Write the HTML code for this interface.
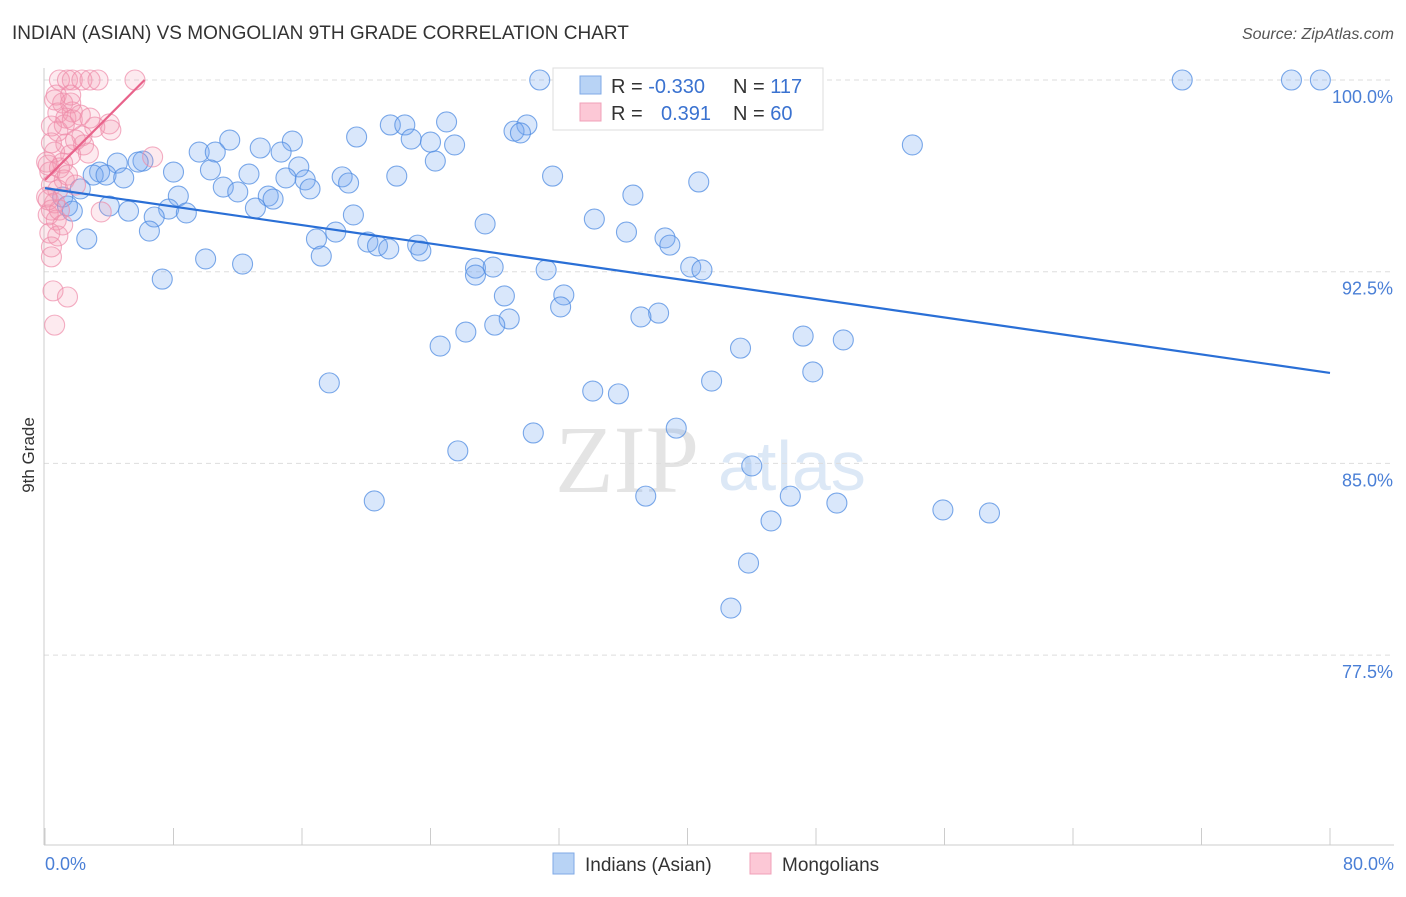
<!DOCTYPE html>
<html><head><meta charset="utf-8"><style>
body{margin:0;background:#fff;font-family:"Liberation Sans",sans-serif;}
</style></head><body>
<svg width="1406" height="892" xmlns="http://www.w3.org/2000/svg" id="svg" font-family="Liberation Sans, sans-serif">
<text x="12" y="39" font-size="19" fill="#333">INDIAN (ASIAN) VS MONGOLIAN 9TH GRADE CORRELATION CHART</text>
<text x="1394" y="39" font-size="16" fill="#555" text-anchor="end" font-style="italic">Source: ZipAtlas.com</text>
<text x="555" y="492" font-size="96" fill="#e4e4e4" font-family="Liberation Serif, serif">ZIP</text>
<text x="718" y="490" font-size="70" fill="#dce8f6">atlas</text>
<g id="grid"></g>
<line x1="44" y1="68" x2="44" y2="845" stroke="#ccc"/>
<line x1="44" y1="845" x2="1394" y2="845" stroke="#ccc"/>
<g id="marks"></g>
<text x="34" y="455" font-size="17" fill="#333" transform="rotate(-90 34 455)" text-anchor="middle">9th Grade</text>
<text x="45" y="870" font-size="18" fill="#4a7fd6">0.0%</text>
<text x="1394" y="870" font-size="18" fill="#4a7fd6" text-anchor="end">80.0%</text>
<g>
<rect x="553" y="68" width="270" height="62" fill="#fff" stroke="#ddd"/>
<rect x="580" y="76" width="21" height="18" fill="#b8d3f5" stroke="#7faae6"/>
<rect x="580" y="103" width="21" height="18" fill="#fcc8d6" stroke="#f0a0b8"/>
<text x="611" y="93" font-size="20" fill="#333">R = <tspan fill="#3a72d0">-0.330</tspan></text>
<text x="733" y="93" font-size="20" fill="#333">N = <tspan fill="#3a72d0">117</tspan></text>
<text x="611" y="120" font-size="20" fill="#333">R = <tspan fill="#3a72d0" x="661">0.391</tspan></text>
<text x="733" y="120" font-size="20" fill="#333">N = <tspan fill="#3a72d0">60</tspan></text>
</g>
<g>
<rect x="553" y="853" width="21" height="21" fill="#b8d3f5" stroke="#7faae6"/>
<text x="585" y="871" font-size="19" fill="#333">Indians (Asian)</text>
<rect x="750" y="853" width="21" height="21" fill="#fcc8d6" stroke="#f0a0b8"/>
<text x="782" y="871" font-size="19" fill="#333">Mongolians</text>
</g>
</svg>
<script>
const yTicks=[100,92.5,85,77.5];
const yTickLabels=["100.0%","92.5%","85.0%","77.5%"];
const xTicks=[0,8,16,24,32,40,48,56,64,72,80];
const blueX=[30.8,70.8,77.6,79.4,46.8,25.0,21.5,22.4,30.0,29.2,29.6,19.4,22.8,24.0,25.5,54.0,11.5,15.4,13.4,9.6,10.6,14.7,6.1,4.5,5.8,24.3,8.0,3.4,3.0,3.8,15.8,10.3,12.7,4.9,18.5,21.9,31.6,15.0,16.2,18.9,40.7,11.1,12.0,16.5,2.2,36.6,8.3,13.9,14.2,1.1,1.4,1.7,4.0,5.2,7.7,6.8,8.8,13.1,19.2,34.2,27.4,6.5,2.6,16.9,18.1,20.1,20.7,21.4,23.2,23.4,36.2,38.6,38.9,10.0,12.3,17.2,7.3,31.2,26.8,27.9,26.8,40.2,40.9,28.6,32.3,32.1,38.2,37.1,28.9,28.0,26.2,24.6,47.2,49.7,43.3,47.8,17.7,41.5,34.1,35.7,30.4,25.7,39.3,44.0,37.4,46.4,49.3,20.5,55.9,58.8,45.2,43.8,42.7];
const blueY=[100,100,100,100,100,98.36,98.24,98.24,98.24,98.0,97.93,97.77,97.69,97.57,97.46,97.46,97.65,97.61,97.34,97.18,97.18,97.18,96.83,96.75,96.79,96.83,96.40,96.40,96.28,96.28,96.60,96.48,96.32,96.17,96.21,96.24,96.24,96.17,96.09,95.97,96.01,95.81,95.62,95.74,95.74,95.50,95.46,95.46,95.34,95.42,95.07,94.87,95.07,94.87,94.95,94.64,94.80,94.99,94.72,94.56,94.37,94.09,93.78,93.78,94.05,93.66,93.51,93.39,93.54,93.31,94.05,93.82,93.54,93.00,92.80,93.11,92.21,92.57,92.64,92.68,92.37,92.68,92.57,91.55,91.59,91.12,90.88,90.73,90.65,90.41,90.14,89.59,89.98,89.83,89.51,88.58,88.15,88.22,87.83,87.72,86.19,85.49,86.38,84.90,83.72,83.72,83.45,83.53,83.18,83.06,82.75,81.10,79.34];
const pinkX=[0.9,1.4,1.7,2.3,2.8,3.3,5.6,0.7,1.1,1.6,0.8,1.7,1.3,0.4,1.2,4.0,4.1,0.8,2.3,3.1,0.4,1.3,2.4,0.6,1.6,2.7,6.7,0.1,1.1,0.3,1.2,0.4,0.8,0.1,0.6,0.4,3.5,0.2,0.7,0.3,0.8,0.4,0.4,0.5,1.4,0.6,0.2,1.6,0.9,1.9,1.4,0.9,1.7,2.2,0.2,1.1,0.6,1.9,2.8];
const pinkY=[100,100,100,100,100,100,100,99.41,99.1,99.1,98.71,98.75,98.51,98.2,98.24,98.28,98.04,98.0,97.81,98.16,97.54,97.5,97.46,97.18,97.07,97.14,96.99,96.79,96.75,96.4,96.09,95.89,95.7,95.42,95.19,94.91,94.84,94.72,94.52,94.01,93.9,93.47,93.08,91.75,91.51,90.41,96.67,99.41,96.56,95.89,96.28,94.91,98.44,98.63,95.31,94.33,99.22,97.65,98.51];
const blueTrendX=[0,80], blueTrendY=[95.77,88.54];
const pinkTrendX=[0,6.2], pinkTrendY=[96.09,100];
const sx=v=>45+v/80*1285;
const sy=v=>80+(100-v)/7.5*191.7;
const NS="http://www.w3.org/2000/svg";
const grid=document.getElementById('grid'), marks=document.getElementById('marks'), svg=document.getElementById('svg');
function mk(tag,attrs,parent){const e=document.createElementNS(NS,tag);for(const k in attrs)e.setAttribute(k,attrs[k]);parent.appendChild(e);return e;}
yTicks.forEach((t,i)=>{
 const l=mk('line',{x1:44,x2:1394,y1:sy(t),y2:sy(t),stroke:'#ddd','stroke-dasharray':'5,4'},grid);
 
 
 const tx=mk('text',{x:1393,y:sy(t)+23,'font-size':18,fill:'#4a7fd6','text-anchor':'end'},svg);
 tx.textContent=yTickLabels[i];
 
 
});
xTicks.forEach(t=>{
 const l=mk('line',{x1:sx(t),x2:sx(t),y1:828,y2:845,stroke:'#ccc'},grid);
 
 
});
blueX.forEach((x,i)=>{
 const c=mk('circle',{cx:sx(x),cy:sy(blueY[i]),r:10,fill:'rgba(120,170,240,0.28)',stroke:'rgba(80,140,225,0.75)','stroke-width':1.1},marks);
 
 
});
pinkX.forEach((x,i)=>{
 const c=mk('circle',{cx:sx(x),cy:sy(pinkY[i]),r:10,fill:'rgba(245,150,175,0.2)',stroke:'rgba(238,140,170,0.7)','stroke-width':1.1},marks);
 
 
});
const bl=mk('line',{x1:sx(blueTrendX[0]),y1:sy(blueTrendY[0]),x2:sx(blueTrendX[1]),y2:sy(blueTrendY[1]),stroke:'#2a6fd6','stroke-width':2.2},marks);


const pl=mk('line',{x1:sx(pinkTrendX[0]),y1:sy(pinkTrendY[0]),x2:sx(pinkTrendX[1]),y2:sy(pinkTrendY[1]),stroke:'#e8638b','stroke-width':2.2},marks);


</script>
</body></html>
